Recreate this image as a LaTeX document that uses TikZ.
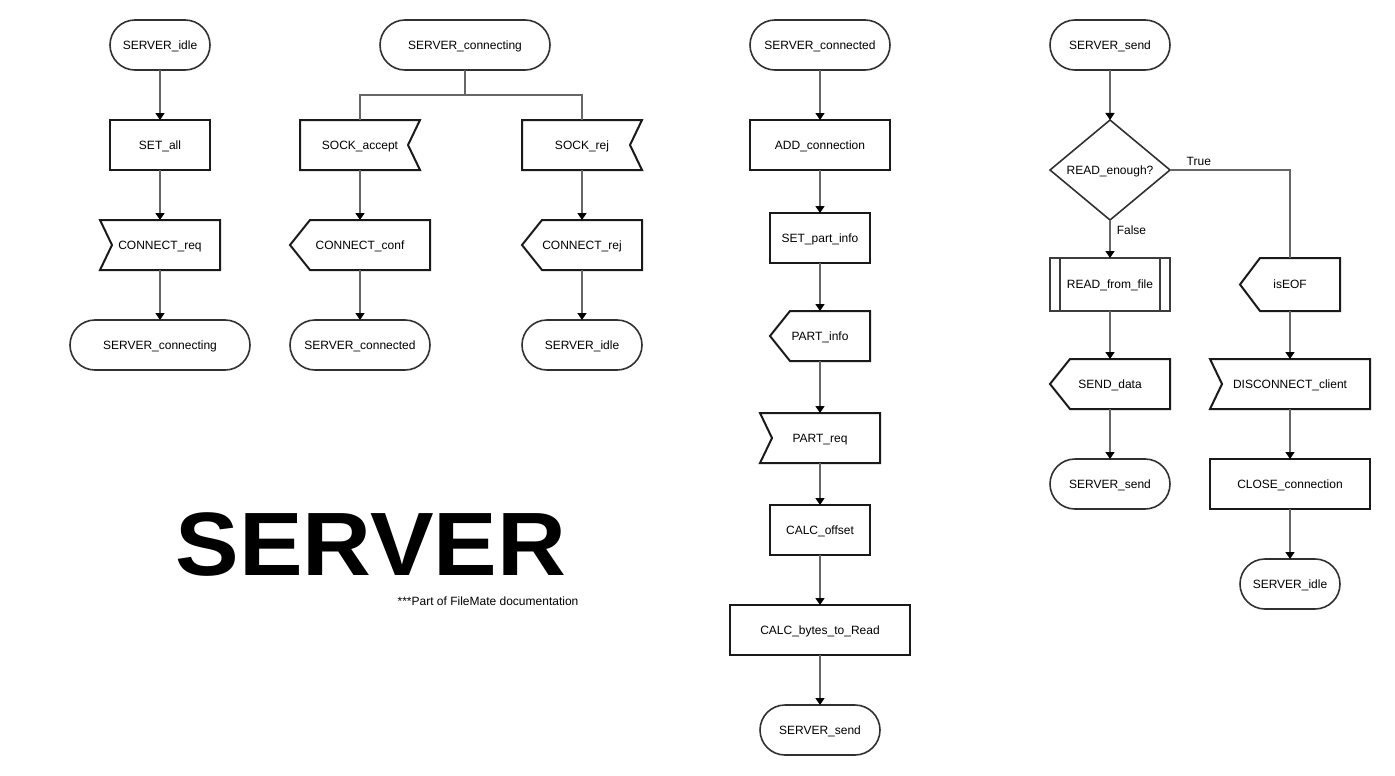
\documentclass[tikz,border=0pt]{standalone}
\usepackage{fontspec}
\setmainfont{Liberation Sans}
\usepackage{tikz}
\usetikzlibrary{arrows.meta,positioning,shapes.geometric}
\definecolor{boxdark}{HTML}{1A1A1A}
\definecolor{linegray}{HTML}{666666}

\begin{document}
\begin{tikzpicture}[x=1pt,y=-1pt,
node distance=50pt,
base/.style={minimum height=50pt,inner sep=0pt,outer sep=0pt,align=center,
font=\fontsize{12}{14}\selectfont,text height=8.6pt,text depth=0pt},
outline/.style={draw=boxdark,line width=2pt,line join=miter},
term/.style={base,draw=boxdark!90,line width=1.6pt,rounded corners=25pt},
proc/.style={base,draw=boxdark,line width=2pt},
recv/.style={base,append after command={\pgfextra{
\draw[outline] (\tikzlastnode.north west) -- (\tikzlastnode.north east)
-- (\tikzlastnode.south east) -- (\tikzlastnode.south west)
-- ([xshift=12pt]\tikzlastnode.west) -- cycle;}}},
sendsig/.style={base,append after command={\pgfextra{
\draw[outline] ([xshift=20pt]\tikzlastnode.north west) -- (\tikzlastnode.north east)
-- (\tikzlastnode.south east) -- ([xshift=20pt]\tikzlastnode.south west)
-- (\tikzlastnode.west) -- cycle;}}},
sock/.style={base,append after command={\pgfextra{
\draw[outline] (\tikzlastnode.north west) -- (\tikzlastnode.north east)
-- ([xshift=-12pt]\tikzlastnode.east) -- (\tikzlastnode.south east)
-- (\tikzlastnode.south west) -- cycle;}}},
pproc/.style={proc,draw=boxdark!85,append after command={\pgfextra{
\draw[outline,draw=boxdark!85] ([xshift=10pt]\tikzlastnode.north west)
-- ([xshift=10pt]\tikzlastnode.south west);
\draw[outline,draw=boxdark!85] ([xshift=-10pt]\tikzlastnode.north east)
-- ([xshift=-10pt]\tikzlastnode.south east);}}},
dec/.style={diamond,draw=boxdark!90,line width=1.6pt,aspect=1.2,inner sep=0pt,
outer sep=0pt,minimum width=120pt,minimum height=100pt,
font=\fontsize{12}{14}\selectfont,text height=8.6pt,text depth=0pt},
arr/.style={-{Triangle[length=7pt,width=9pt,color=black]},draw=linegray,
line width=1.5pt},
link/.style={draw=linegray,line width=1.5pt},
lbl/.style={font=\fontsize{12}{14}\selectfont,inner sep=2pt}
]
\useasboundingbox (0,0) rectangle (1395,776);

\node[term,minimum width=100pt] (i1) at (160,45) {SERVER\_idle};
\node[proc,minimum width=100pt,below=of i1] (sa) {SET\_all};
\node[recv,minimum width=120pt,below=of sa] (cq) {CONNECT\_req};
\node[term,minimum width=180pt,below=of cq] (cg1) {SERVER\_connecting};

\node[term,minimum width=170pt] (cg2) at (465,45) {SERVER\_connecting};
\node[sock,minimum width=120pt,below=50pt of cg2,xshift=-105pt] (sk) {SOCK\_accept};
\node[sock,minimum width=120pt,below=50pt of cg2,xshift=117pt] (sj) {SOCK\_rej};
\node[sendsig,minimum width=140pt,below=of sk] (cf) {CONNECT\_conf};
\node[sendsig,minimum width=120pt,below=of sj] (cj) {CONNECT\_rej};
\node[term,minimum width=140pt,below=of cf] (cd2) {SERVER\_connected};
\node[term,minimum width=120pt,below=of cj] (i2) {SERVER\_idle};
\coordinate[below=25pt of cg2] (fork);

\node[term,minimum width=140pt] (cd3) at (820,45) {SERVER\_connected};
\node[proc,minimum width=140pt,below=of cd3] (ac) {ADD\_connection};
\node[proc,minimum width=100pt,below=43pt of ac] (sp) {SET\_part\_info};
\node[sendsig,minimum width=100pt,below=48pt of sp] (pi) {PART\_info};
\node[recv,minimum width=120pt,below=52pt of pi] (pq) {PART\_req};
\node[proc,minimum width=100pt,below=42pt of pq] (co) {CALC\_offset};
\node[proc,minimum width=180pt,below=of co] (cb) {CALC\_bytes\_to\_Read};
\node[term,minimum width=120pt,below=of cb] (sd3) {SERVER\_send};

\node[term,minimum width=120pt] (sd4) at (1110,45) {SERVER\_send};
\node[dec,below=of sd4] (rq) {READ\_enough?};
\node[pproc,minimum width=120pt,minimum height=53pt,below=38pt of rq] (rf) {READ\_from\_file};
\node[sendsig,minimum width=100pt,minimum height=53pt,right=70pt of rf] (eof) {isEOF};
\node[sendsig,minimum width=120pt,below=48pt of rf] (dt) {SEND\_data};
\node[recv,minimum width=160pt,below=48pt of eof] (dc) {DISCONNECT\_client};
\node[term,minimum width=120pt,below=of dt] (sd5) {SERVER\_send};
\node[proc,minimum width=160pt,below=of dc] (cl) {CLOSE\_connection};
\node[term,minimum width=100pt,below=of cl] (i4) {SERVER\_idle};

\node[font=\fontsize{90}{90}\selectfont\bfseries,xscale=1.06] (title) at (371,545) {SERVER};
\node[font=\fontsize{12}{14}\selectfont] (note) at (488,601) {***Part of FileMate documentation};

\foreach \a/\b in {i1/sa,sa/cq,cq/cg1,sk/cf,cf/cd2,sj/cj,cj/i2,
cd3/ac,ac/sp,sp/pi,pi/pq,pq/co,co/cb,cb/sd3,sd4/rq,rf/dt,dt/sd5,
eof/dc,dc/cl,cl/i4}
\draw[arr] (\a) -- (\b);
\draw[link] (cg2) -- (fork) -| (sk.north);
\draw[link] (fork) -| (sj.north);
\draw[arr] (rq) -- node[lbl,pos=0.28,right=4pt]{False} (rf);
\draw[link] (rq.east) -| node[lbl,pos=0.12,above=2pt]{True} (eof.north);
\end{tikzpicture}
\end{document}
